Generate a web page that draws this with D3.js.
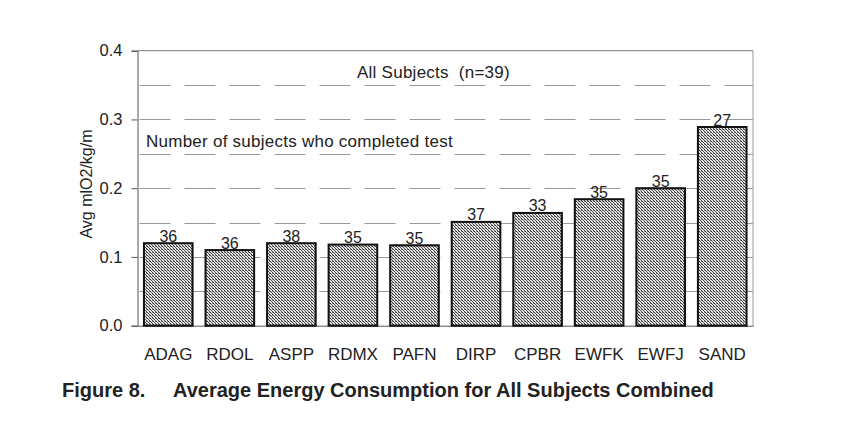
<!DOCTYPE html>
<html>
<head>
<meta charset="utf-8">
<script src="https://cdn.jsdelivr.net/npm/d3@7"></script>
<style>
  body { margin: 0; background: #fff; }
  svg { display: block; font-family: "Liberation Sans", Arial, Helvetica, sans-serif; }
</style>
</head>
<body>
<svg id="chart" width="843" height="445"></svg>
<script>
const categories = ["ADAG", "RDOL", "ASPP", "RDMX", "PAFN", "DIRP", "CPBR", "EWFK", "EWFJ", "SAND"];
const values = [0.120, 0.110, 0.120, 0.118, 0.117, 0.151, 0.164, 0.184, 0.200, 0.289];
const counts = [36, 36, 38, 35, 35, 37, 33, 35, 35, 27];
const yTicks = [0.0, 0.1, 0.2, 0.3, 0.4];
const gridValues = [0.05, 0.1, 0.15, 0.2, 0.25, 0.3, 0.35];

const svg = d3.select("#chart");
const plotLeft = 137.5, plotRight = 753, plotTop = 50.7, plotBottom = 325.7;
const textColor = "#222";
const fontFam = "'Liberation Sans', Arial, sans-serif";

const x = d3.scaleBand().domain(categories).range([plotLeft, plotRight]).paddingInner(0.21).paddingOuter(0.105);
const y = d3.scaleLinear().domain([0, 0.4]).range([plotBottom, plotTop]);

// pattern
const defs = svg.append("defs");
const pat = defs.append("pattern").attr("id", "stipple").attr("patternUnits", "userSpaceOnUse")
  .attr("width", 3).attr("height", 3);
pat.append("rect").attr("width", 3).attr("height", 3).attr("fill", "#e2e2e2");
pat.append("rect").attr("x", 0).attr("y", 0).attr("width", 1).attr("height", 1).attr("fill", "#333");
pat.append("rect").attr("x", 1).attr("y", 1).attr("width", 1).attr("height", 1).attr("fill", "#555");
pat.append("rect").attr("x", 2).attr("y", 2).attr("width", 1).attr("height", 1).attr("fill", "#444");
pat.append("rect").attr("x", 2).attr("y", 0).attr("width", 1).attr("height", 1).attr("fill", "#888");

// gridlines
svg.append("g").selectAll("line").data(gridValues).join("line")
  .attr("x1", plotLeft + 2).attr("x2", plotRight)
  .attr("y1", d => Math.round(y(d)) + 0.5).attr("y2", d => Math.round(y(d)) + 0.5)
  .attr("stroke", "#9a9a9a").attr("stroke-width", 1)
  .attr("stroke-dasharray", "31,14");

// frame top and right
svg.append("line").attr("x1", plotLeft).attr("x2", plotRight).attr("y1", plotTop).attr("y2", plotTop)
  .attr("stroke", "#777").attr("stroke-width", 1);
svg.append("line").attr("x1", plotRight).attr("x2", plotRight).attr("y1", plotTop).attr("y2", plotBottom)
  .attr("stroke", "#999").attr("stroke-width", 1);

// y axis
const yAxis = d3.axisLeft(y).tickValues(yTicks).tickFormat(d3.format(".1f")).tickSize(6).tickPadding(9);
const gy = svg.append("g").attr("transform", `translate(${plotLeft},0)`).call(yAxis);
gy.select(".domain").attr("stroke", "#555");
gy.selectAll(".tick line").attr("stroke", "#555");
gy.selectAll(".tick text").attr("fill", textColor).style("font-size", "16.5px")
  .style("font-family", fontFam);

// x axis
const xAxis = d3.axisBottom(x).tickSize(0).tickPadding(22);
const gx = svg.append("g").attr("transform", `translate(0,${plotBottom})`).call(xAxis);
gx.select(".domain").attr("stroke", "#555");
gx.selectAll(".tick text").attr("fill", textColor).style("font-size", "17px")
  .style("font-family", fontFam);

// bars
svg.append("g").selectAll("rect").data(categories).join("rect")
  .attr("x", d => x(d))
  .attr("y", (d, i) => y(values[i]))
  .attr("width", x.bandwidth())
  .attr("height", (d, i) => plotBottom - y(values[i]))
  .attr("fill", "url(#stipple)")
  .attr("stroke", "#111").attr("stroke-width", 2);

// counts
svg.append("g").selectAll("text").data(categories).join("text")
  .attr("x", d => x(d) + x.bandwidth() / 2)
  .attr("y", (d, i) => y(values[i]) - 1.5)
  .attr("text-anchor", "middle")
  .attr("fill", textColor).style("font-size", "16px")
  .text((d, i) => counts[i]);

// annotations
svg.append("text").attr("x", 357).attr("y", 78).attr("fill", textColor).style("font-size", "17px")
  .style("letter-spacing", "0.25px")
  .attr("xml:space", "preserve").text("All Subjects  (n=39)");
svg.append("text").attr("x", 146).attr("y", 147).attr("fill", textColor).style("font-size", "17px")
  .style("letter-spacing", "0.25px")
  .text("Number of subjects who completed test");

// y label
svg.append("text").attr("transform", "translate(92,184) rotate(-90)").attr("text-anchor", "middle")
  .attr("fill", textColor).style("font-size", "16px").text("Avg mlO2/kg/m");

// caption
svg.append("text").attr("x", 62).attr("y", 397).attr("fill", textColor)
  .style("font-size", "20px").style("font-weight", "bold").text("Figure 8.");
svg.append("text").attr("x", 173).attr("y", 397).attr("fill", textColor)
  .style("font-size", "20px").style("font-weight", "bold").text("Average Energy Consumption for All Subjects Combined");
</script>
</body>
</html>
